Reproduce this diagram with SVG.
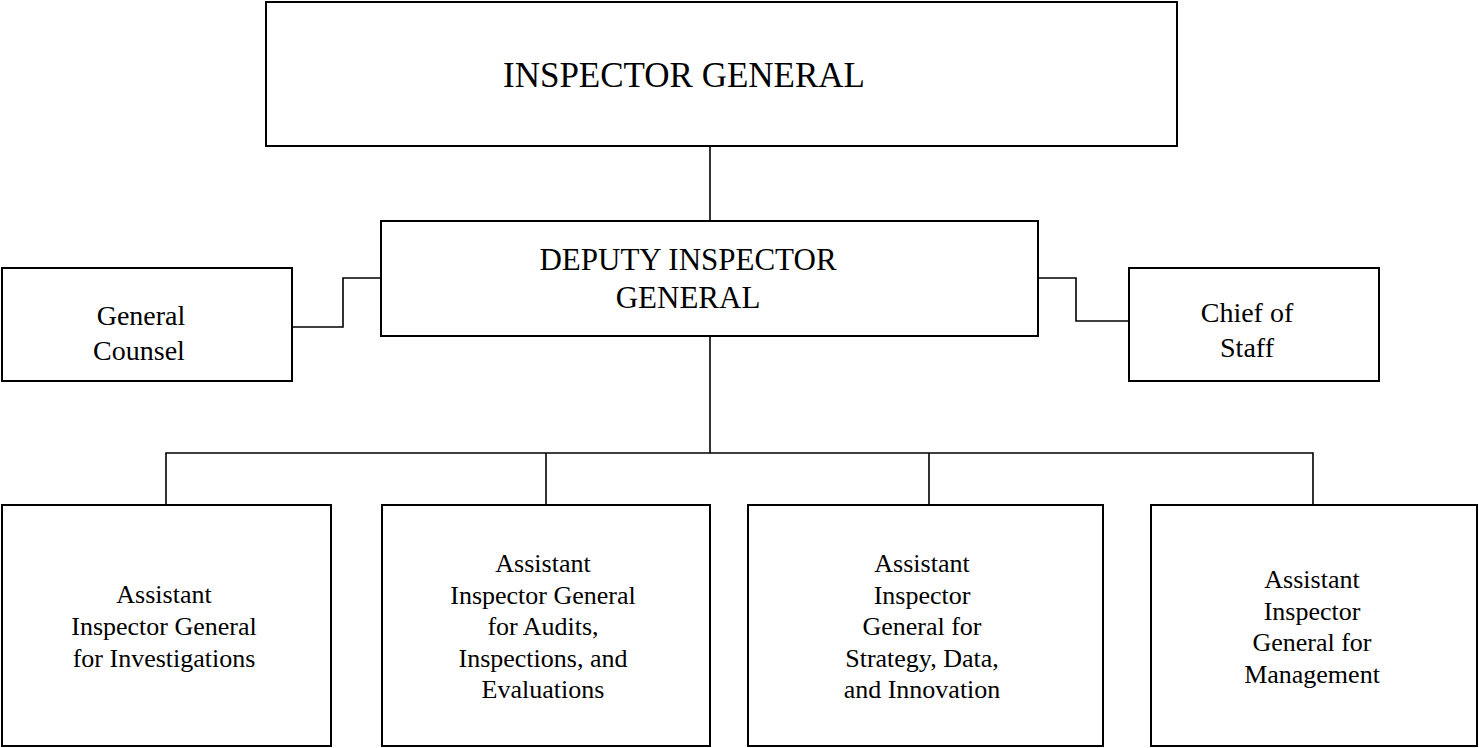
<svg xmlns="http://www.w3.org/2000/svg" width="1479" height="748" viewBox="0 0 1479 748">
<style>
.box{fill:#fff;stroke:#000;stroke-width:2}
.ln{fill:none;stroke:#000;stroke-width:1.6}
text{font-family:"Liberation Serif","Times New Roman",serif;fill:#000;text-anchor:middle}
.t1{font-size:35px}
.t2{font-size:31px}
.t3{font-size:28px}
.t4{font-size:26px}
</style>
<rect width="1479" height="748" fill="#fff"/>
<g id="connectors">
<path class="ln" d="M710 146V221"/>
<path class="ln" d="M381 278H343V327H292"/>
<path class="ln" d="M1038 278H1076V321H1129"/>
<path class="ln" d="M710 336V453"/>
<path class="ln" d="M166 505V453H1313V505"/>
<path class="ln" d="M546 453V505"/>
<path class="ln" d="M929 453V505"/>
</g>
<g id="n-ig">
<rect class="box" x="266" y="2" width="911" height="144"/>
<text class="t1" x="684" y="87">INSPECTOR GENERAL</text>
</g>
<g id="n-dig">
<rect class="box" x="381" y="221" width="657" height="115"/>
<text class="t2" x="688" y="270">DEPUTY INSPECTOR</text>
<text class="t2" x="688" y="308">GENERAL</text>
</g>
<g id="n-gc">
<rect class="box" x="2" y="268" width="290" height="113"/>
<text class="t3" x="141" y="325">General</text>
<text class="t3" x="139" y="360">Counsel</text>
</g>
<g id="n-cos">
<rect class="box" x="1129" y="268" width="250" height="113"/>
<text class="t3" x="1247" y="322">Chief of</text>
<text class="t3" x="1247" y="357">Staff</text>
</g>
<g id="n-inv">
<rect class="box" x="2" y="505" width="329" height="241"/>
<text class="t4" x="164" y="603">Assistant</text>
<text class="t4" x="164" y="635">Inspector General</text>
<text class="t4" x="164" y="667">for Investigations</text>
</g>
<g id="n-aie">
<rect class="box" x="382" y="505" width="328" height="241"/>
<text class="t4" x="543" y="572">Assistant</text>
<text class="t4" x="543" y="604">Inspector General</text>
<text class="t4" x="543" y="635">for Audits,</text>
<text class="t4" x="543" y="667">Inspections, and</text>
<text class="t4" x="543" y="698">Evaluations</text>
</g>
<g id="n-sdi">
<rect class="box" x="748" y="505" width="355" height="241"/>
<text class="t4" x="922" y="572">Assistant</text>
<text class="t4" x="922" y="604">Inspector</text>
<text class="t4" x="922" y="635">General for</text>
<text class="t4" x="922" y="667">Strategy, Data,</text>
<text class="t4" x="922" y="698">and Innovation</text>
</g>
<g id="n-mgmt">
<rect class="box" x="1151" y="505" width="326" height="241"/>
<text class="t4" x="1312" y="588">Assistant</text>
<text class="t4" x="1312" y="620">Inspector</text>
<text class="t4" x="1312" y="651">General for</text>
<text class="t4" x="1312" y="683">Management</text>
</g>
</svg>
